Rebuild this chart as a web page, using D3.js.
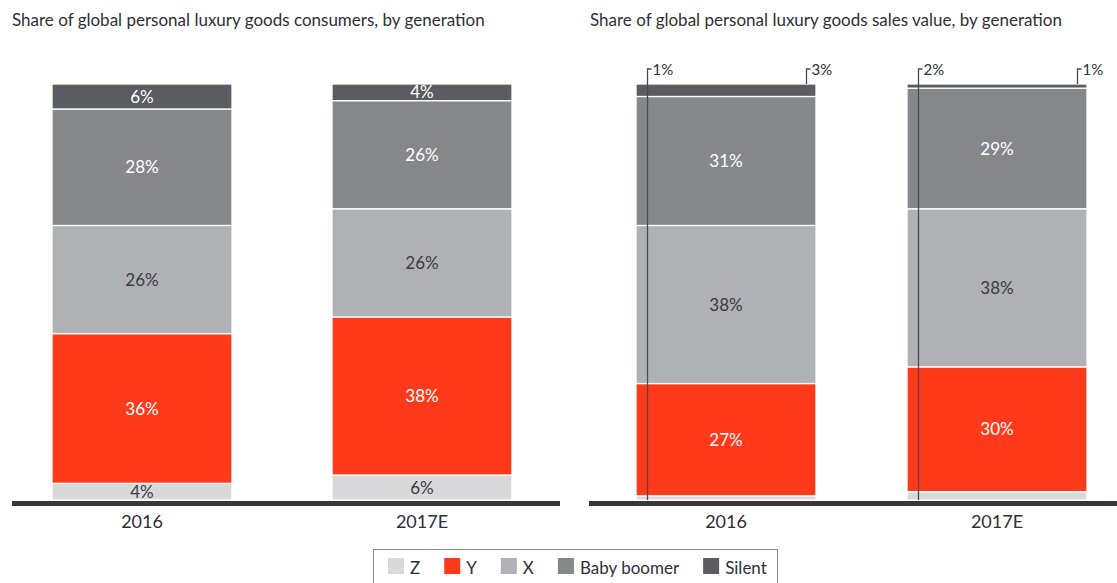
<!DOCTYPE html>
<html>
<head>
<meta charset="utf-8">
<script src="https://cdn.jsdelivr.net/npm/d3@7"></script>
<style>
  html, body { margin: 0; padding: 0; background: #fff; }
  svg { display: block; font-family: Lato, "Open Sans", sans-serif; }
</style>
</head>
<body>
<svg id="chart" width="1117" height="583"></svg>
<script>
// ---- data ----
const years = ["2016", "2017E"];
const generations = ["Z", "Y", "X", "Baby boomer", "Silent"];
const genColors = ["#d9d9db", "#ff3a1b", "#b0b1b5", "#86878b", "#5b5c61"];
const genTextColors = ["#3a3b45", "#ffffff", "#3a3b45", "#ffffff", "#ffffff"];

// Share of consumers (%)
const consumersZ = [4, 6];
const consumersY = [36, 38];
const consumersX = [26, 26];
const consumersBoomer = [28, 26];
const consumersSilent = [6, 4];

// Share of sales value (%)
const salesZ = [1, 2];
const salesY = [27, 30];
const salesX = [38, 38];
const salesBoomer = [31, 29];
const salesSilent = [3, 1];

const titleLeft = "Share of global personal luxury goods consumers, by generation";
const titleRight = "Share of global personal luxury goods sales value, by generation";

// ---- build tables ----
function table(series) {
  return years.map((yr, i) => {
    const row = { year: yr };
    generations.forEach((g, j) => row[g] = series[j][i]);
    return row;
  });
}
const consumerRows = table([consumersZ, consumersY, consumersX, consumersBoomer, consumersSilent]);
const salesRows = table([salesZ, salesY, salesX, salesBoomer, salesSilent]);

const svg = d3.select("#chart");
const y = d3.scaleLinear().domain([0, 100]).range([500, 84]);
const color = d3.scaleOrdinal().domain(generations).range(genColors);
const textColor = d3.scaleOrdinal().domain(generations).range(genTextColors);
const stack = d3.stack().keys(generations);

function panel(cfg) {
  const g = svg.append("g");
  const x = d3.scaleBand().domain(years).range(cfg.barRange).paddingInner(cfg.padInner).paddingOuter(0);
  const series = stack(cfg.rows);

  g.append("text")
    .attr("x", cfg.titleX).attr("y", 26)
    .attr("font-size", 17).attr("fill", "#2f2f35")
    .text(cfg.title);

  const layers = g.selectAll("g.layer").data(series).join("g")
    .attr("class", "layer")
    .attr("fill", d => color(d.key));

  layers.selectAll("rect").data(d => d.map(v => Object.assign(v, { key: d.key }))).join("rect")
    .attr("x", d => x(d.data.year))
    .attr("width", x.bandwidth())
    .attr("y", d => y(d[1]))
    .attr("height", d => Math.max(0, y(d[0]) - y(d[1])))
    .attr("stroke", "#ffffff")
    .attr("stroke-width", 1.3);

  // inside labels
  series.forEach(s => {
    s.forEach(d => {
      if (cfg.inside(s.key)) {
        g.append("text")
          .attr("x", x(d.data.year) + x.bandwidth() / 2)
          .attr("y", (y(d[0]) + y(d[1])) / 2)
          .attr("dy", "0.36em")
          .attr("text-anchor", "middle")
          .attr("font-size", 17)
          .attr("fill", textColor(s.key))
          .text((d[1] - d[0]) + "%");
      }
    });
  });

  // callouts for thin segments
  if (cfg.callouts) {
    const zS = series.find(s => s.key === "Z");
    const sS = series.find(s => s.key === "Silent");
    const hookY = 69;
    zS.forEach(d => {
      const lx = x(d.data.year) + 11.5;
      g.append("path")
        .attr("d", `M${lx},${y(0)}V${hookY}h4`)
        .attr("fill", "none").attr("stroke", "#4a4a50").attr("stroke-width", 1.3);
      g.append("text").attr("x", lx + 5).attr("y", 75)
        .attr("font-size", 15).attr("fill", "#2f2f35")
        .text((d[1] - d[0]) + "%");
    });
    sS.forEach(d => {
      const lx = x(d.data.year) + x.bandwidth() - 9.5;
      g.append("path")
        .attr("d", `M${lx},${y(100)}V${hookY}h4`)
        .attr("fill", "none").attr("stroke", "#4a4a50").attr("stroke-width", 1.3);
      g.append("text").attr("x", lx + 5).attr("y", 75)
        .attr("font-size", 15).attr("fill", "#2f2f35")
        .text((d[1] - d[0]) + "%");
    });
  }

  // baseline axis
  const axis = d3.axisBottom(x).tickSize(0).tickPadding(12);
  const ax = g.append("g").attr("transform", `translate(0,${503.5})`).call(axis);
  ax.select(".domain").remove();
  ax.insert("line", ":first-child")
    .attr("x1", cfg.axisRange[0]).attr("x2", cfg.axisRange[1])
    .attr("stroke", "#36363c").attr("stroke-width", 5);
  ax.selectAll(".tick text")
    .attr("font-size", 18).attr("fill", "#2f2f35")
    .attr("font-family", "Lato, 'Open Sans', sans-serif");
}

panel({
  rows: consumerRows,
  title: titleLeft,
  titleX: 12,
  barRange: [52, 512],
  padInner: 100 / 280,
  axisRange: [12, 560],
  inside: k => true,
  callouts: false
});

panel({
  rows: salesRows,
  title: titleRight,
  titleX: 590,
  barRange: [636, 1087],
  padInner: 91 / 271,
  axisRange: [589, 1117],
  inside: k => k !== "Z" && k !== "Silent",
  callouts: true
});

// ---- legend ----
const legend = svg.append("g");
legend.append("rect")
  .attr("x", 373.5).attr("y", 549.5).attr("width", 404).attr("height", 45)
  .attr("fill", "none").attr("stroke", "#8a8a8e").attr("stroke-width", 1);
let lx = 388;
generations.forEach((gname, i) => {
  legend.append("rect")
    .attr("x", lx).attr("y", 558).attr("width", 16).attr("height", 16)
    .attr("fill", color(gname));
  const t = legend.append("text")
    .attr("x", lx + 22).attr("y", 574)
    .attr("font-size", 17).attr("fill", "#2f2f35")
    .text(gname);
  lx += 22 + t.node().getComputedTextLength() + 24;
});
</script>
</body>
</html>
